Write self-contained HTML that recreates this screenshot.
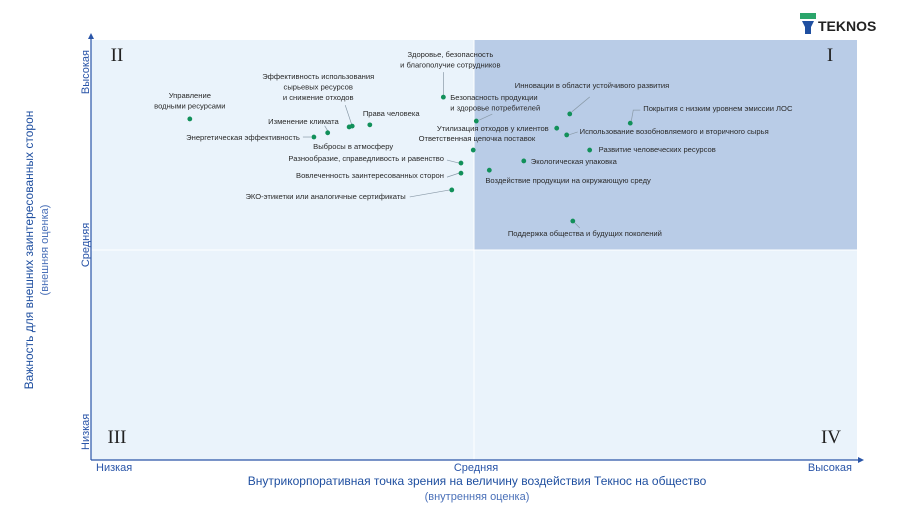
<!DOCTYPE html>
<html><head><meta charset="utf-8"><style>
html,body{margin:0;padding:0;background:#fff;width:900px;height:506px;overflow:hidden}
svg{display:block;font-family:"Liberation Sans","Noto Sans CJK SC",sans-serif}
</style></head><body>
<svg id="chart" width="900" height="506" viewBox="0 0 900 506">
<g>
  <rect x="800" y="13" width="16" height="6" fill="#2aa56b"/>
  <path d="M802 21 h12 l-3 6 v7 h-6 v-7 z" fill="#1f4fa0"/>
  <text x="818" y="31" font-size="14" font-weight="bold" fill="#222">TEKNOS</text>
</g>
</svg>
<script>
const names = ["Управление|водными ресурсами","Энергетическая эффективность","Изменение климата","Выбросы в атмосферу","Эффективность использования|сырьевых ресурсов|и снижение отходов","Права человека","Здоровье, безопасность|и благополучие сотрудников","Безопасность продукции|и здоровье потребителей","Разнообразие, справедливость и равенство","Вовлеченность заинтересованных сторон","ЭКО-этикетки или аналогичные сертификаты","Ответственная цепочка поставок","Утилизация отходов у клиентов","Инновации в области устойчивого развития","Покрытия с низким уровнем эмиссии ЛОС","Использование возобновляемого и вторичного сырья","Развитие человеческих ресурсов","Экологическая упаковка","Воздействие продукции на окружающую среду","Поддержка общества и будущих поколений"];
const internalScore = [1.29,2.91,3.09,3.37,3.41,3.64,4.60,5.03,4.83,4.83,4.71,4.99,6.08,6.25,7.04,6.21,6.51,5.65,5.20,6.29];
const externalScore = [8.12,7.69,7.79,7.93,7.95,7.98,8.64,8.07,7.07,6.83,6.43,7.38,7.90,8.24,8.02,7.74,7.38,7.12,6.90,5.69];
const xTicks = ["Низкая","Средняя","Высокая"];
const yTicks = ["Низкая","Средняя","Высокая"];
// label layout (offsets relative to point; presentation only)
const labelLayout = [
 [0,-21,"middle",null],[-14,3,"end",[-11,0,-3,0]],[11,-9,"end",[-3,-7,0,-2]],[-36,22,"start",null],
 [-34,-47,"middle",[-7,-21,0,0]],[-7,-9,"start",null],[7,-40,"middle",[0,-25,0,-2]],
 [-26,-21,"start",[3,-1,16,-7]],[-17,-2,"end",[-14,-3,-2,0]],[-17,5,"end",[-14,4,-2,0]],
 [-46,9,"end",[-42,7,-2,0]],[62,-9,"end",null],[-8,3,"end",null],[-55,-26,"start",[2,-2,20,-17]],
 [13,-12,"start",[1,-2,3,-13,10,-13]],[13,-1,"start",[2,0,11,-3]],[9,2,"start",null],[7,3,"start",null],
 [-4,13,"start",null],[-65,15,"start",[1,1,7,7]]
];
const NS="http://www.w3.org/2000/svg";
const svg=document.getElementById("chart");
const X0=91,X1=857,Y0=460,Y1=40;
const xs=v=>X0+v*(X1-X0)/10;
const ys=v=>Y0-v*(Y0-Y1)/10;
function mk(t,a,p){const e=document.createElementNS(NS,t);for(const k in a)e.setAttribute(k,a[k]);(p||svg).appendChild(e);return e;}
const bg=mk("g",{});


const mx=xs(5),my=ys(5);
let r=mk("rect",{x:X0,y:Y1,width:X1-X0,height:Y0-Y1,fill:"#eaf3fb"},bg);
r=mk("rect",{x:mx,y:Y1,width:X1-mx,height:my-Y1,fill:"#b9cce7"},bg);


mk("line",{x1:mx,y1:Y1,x2:mx,y2:Y0,stroke:"#fff","stroke-width":1},bg);
mk("line",{x1:X0,y1:my,x2:X1,y2:my,stroke:"#fff","stroke-width":1},bg);
const romans=[["II",117,61],["I",830,61],["III",117,443],["IV",831,443]];
romans.forEach(q=>{const t=mk("text",{x:q[1],y:q[2],"font-size":19,"text-anchor":"middle","font-family":"Liberation Serif,serif",fill:"#222"});t.textContent=q[0];

});
// axes
const ax=mk("g",{stroke:"#2a55a8","stroke-width":1.2});


mk("line",{x1:X0,y1:Y0,x2:X0,y2:36},ax);
mk("line",{x1:X0,y1:Y0,x2:861,y2:Y0},ax);
mk("path",{d:"M91 33 l-3 6 h6 z",fill:"#2a55a8",stroke:"none"});
mk("path",{d:"M864 460 l-6 -3 v6 z",fill:"#2a55a8",stroke:"none"});
const xtPos=[0,5,10],xtAnch=["start","middle","end"];
xTicks.forEach((s,i)=>{const t=mk("text",{x:xs(xtPos[i])+(i==0?5:i==2?-5:2),y:471,"font-size":11,"text-anchor":xtAnch[i],fill:"#2a55a8"});t.textContent=s;

});
yTicks.forEach((s,i)=>{const yy=ys(xtPos[i])+(i==0?-10:i==2?10:-5);const t=mk("text",{x:0,y:0,transform:`translate(89,${yy}) rotate(-90)`,"font-size":11,"text-anchor":xtAnch[i]==="start"?"start":xtAnch[i],fill:"#2a55a8"});t.textContent=s;

});
let t=mk("text",{x:477,y:485,"font-size":12,"text-anchor":"middle",fill:"#1f4fa0"});t.textContent="Внутрикорпоративная точка зрения на величину воздействия Теknос на общество".replace("Теknос","Текнос");


t=mk("text",{x:477,y:500,"font-size":11,"text-anchor":"middle",fill:"#4a70b8"});t.textContent="(внутренняя оценка)";


t=mk("text",{transform:"translate(33,250) rotate(-90)","font-size":12,"text-anchor":"middle",fill:"#1f4fa0"});t.textContent="Важность для внешних заинтересованных сторон";


t=mk("text",{transform:"translate(48,250) rotate(-90)","font-size":11,"text-anchor":"middle",fill:"#4a70b8"});t.textContent="(внешняя оценка)";


// points
names.forEach((n,i)=>{
  const px=xs(internalScore[i]),py=ys(externalScore[i]);
  const L=labelLayout[i];
  const g=mk("g",{});
  
  
  if(L[3]){const a=L[3];let d="M"+(px+a[0])+" "+(py+a[1]);for(let k=2;k<a.length;k+=2)d+=" L"+(px+a[k])+" "+(py+a[k+1]);
    mk("path",{d:d,fill:"none",stroke:"#8a9aa8","stroke-width":0.7},g);}
  mk("circle",{cx:px,cy:py,r:2.4,fill:"#12905a"},g);
  const lines=n.split("|");
  lines.forEach((s,k)=>{const tt=mk("text",{x:px+L[0],y:py+L[1]+k*10.5,"font-size":7.6,"text-anchor":L[2],fill:"#2a2a2a"},g);tt.textContent=s;});
});
</script>
</body></html>
